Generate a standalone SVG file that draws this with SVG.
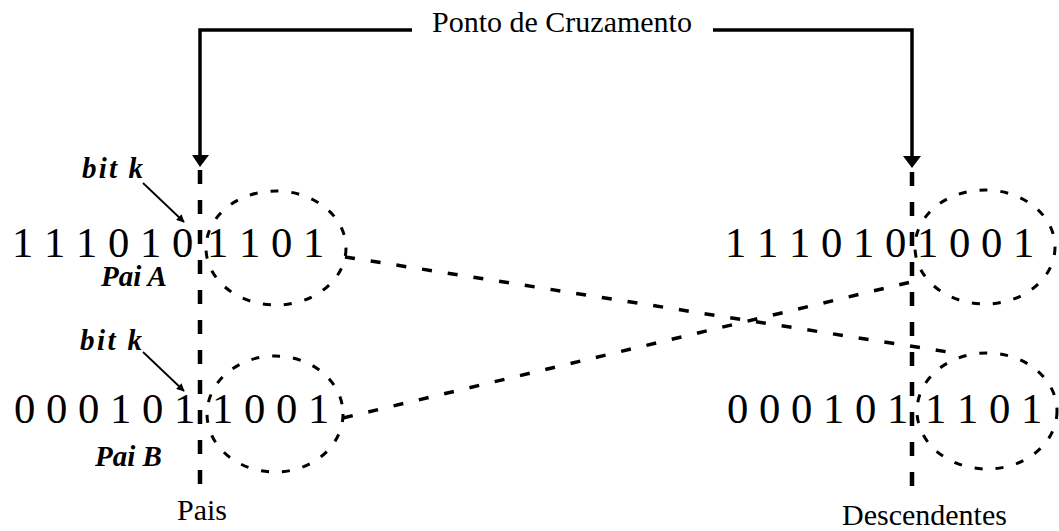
<svg xmlns="http://www.w3.org/2000/svg" width="1059" height="531" viewBox="0 0 1059 531">
  <style>
    .bits { font-family: "Liberation Serif", "Times New Roman", serif; font-size: 42.7px; fill: #000; }
    .lab { font-family: "Liberation Serif", "Times New Roman", serif; font-size: 30px; fill: #000; }
    .bi { font-family: "Liberation Serif", "Times New Roman", serif; font-size: 29px; font-weight: bold; font-style: italic; fill: #000; }
    .solid { fill: none; stroke: #000; stroke-width: 3.5; }
    .cut { fill: none; stroke: #000; stroke-width: 4.5; stroke-dasharray: 14 16; }
    .ell { fill: none; stroke: #000; stroke-width: 3; stroke-dasharray: 8 13; }
    .cross { fill: none; stroke: #000; stroke-width: 3.5; stroke-dasharray: 10 16; }
    .thin { fill: none; stroke: #000; stroke-width: 1.8; }
  </style>
  <defs>
    <marker id="small" viewBox="0 0 10 10" refX="9" refY="5" markerWidth="8" markerHeight="8" markerUnits="userSpaceOnUse" orient="auto">
      <path d="M0,0 L10,5 L0,10 z" fill="#000"/>
    </marker>
  </defs>
  <rect width="1059" height="531" fill="#fff"/>

  <g id="title">
    <text class="lab" x="432" y="32">Ponto de Cruzamento</text>
  </g>

  <g id="connectors">
    <path class="solid" d="M412,30 H200 V157"/>
    <polygon points="192,155 209,155 200,167" fill="#000"/>
    <path class="solid" d="M713,30 H912 V158"/>
    <polygon points="903,156 921,156 912,168" fill="#000"/>
    <line class="cut" x1="200" y1="170" x2="200" y2="484"/>
    <line class="cut" x1="912" y1="172" x2="912" y2="487"/>
    <line class="cross" x1="345" y1="257" x2="948" y2="352"/>
    <line class="cross" x1="343" y1="418" x2="915" y2="281"/>
    <line class="thin" x1="143" y1="183" x2="184" y2="222" marker-end="url(#small)"/>
    <line class="thin" x1="143" y1="352" x2="184" y2="391" marker-end="url(#small)"/>
  </g>

  <g id="paiA">
    <text class="bits" x="12" y="257">1 1 1 0 1 0</text>
    <text class="bits" x="207" y="257">1 1 0 1</text>
    <ellipse class="ell" cx="276" cy="248" rx="70" ry="57"/>
    <text class="bi" x="82" y="178" textLength="61" lengthAdjust="spacing">bit k</text>
    <text class="bi" x="101" y="286">Pai A</text>
  </g>

  <g id="paiB">
    <text class="bits" x="14" y="423">0 0 0 1 0 1</text>
    <text class="bits" x="212" y="423">1 0 0 1</text>
    <ellipse class="ell" cx="275" cy="414" rx="68" ry="58"/>
    <text class="bi" x="80" y="350" textLength="62" lengthAdjust="spacing">bit k</text>
    <text class="bi" x="95" y="466">Pai B</text>
  </g>

  <g id="filho1">
    <text class="bits" x="725" y="257">1 1 1 0 1 0</text>
    <text class="bits" x="917" y="257">1 0 0 1</text>
    <ellipse class="ell" cx="985" cy="247" rx="70" ry="57"/>
  </g>

  <g id="filho2">
    <text class="bits" x="727" y="423">0 0 0 1 0 1</text>
    <text class="bits" x="925" y="423">1 1 0 1</text>
    <ellipse class="ell" cx="987" cy="411" rx="70" ry="58"/>
  </g>

  <g id="labels">
    <text class="lab" x="177" y="520" font-size="29">Pais</text>
    <text class="lab" x="842" y="525">Descendentes</text>
  </g>
</svg>
